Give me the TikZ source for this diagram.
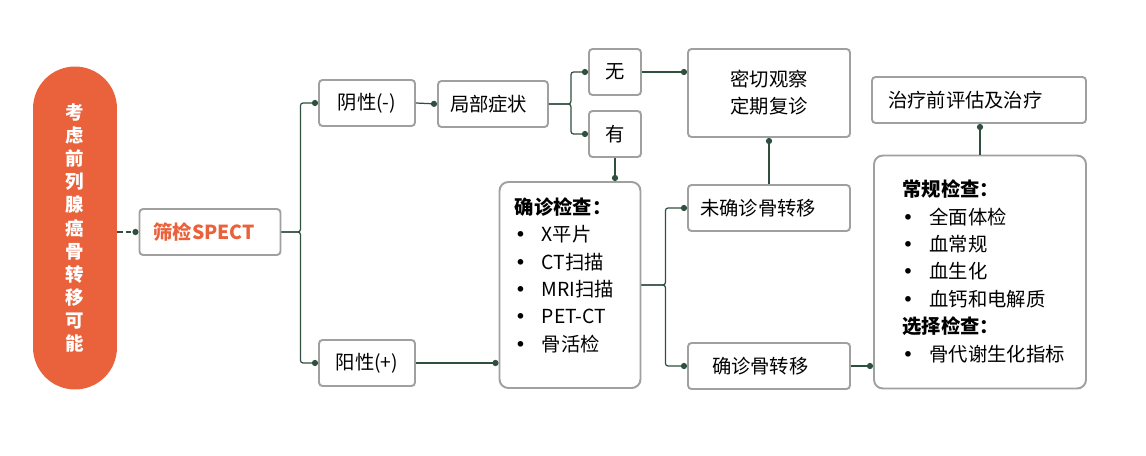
\documentclass[tikz,border=0pt]{standalone}
\usepackage{fontspec}
\setmainfont{Noto Sans CJK SC}
\newfontfamily\bulletfont{DejaVu Sans}
\usetikzlibrary{positioning,arrows.meta,calc}
\definecolor{pillorange}{RGB}{234,98,59}
\definecolor{boxgray}{RGB}{160,160,160}
\definecolor{linkgreen}{RGB}{47,79,63}
\newcommand{\itm}[1]{\makebox[0.54cm][l]{{\bulletfont •}}#1}

\begin{document}
\begin{tikzpicture}[x=0.02cm,y=-0.02cm,
    box/.style={draw=boxgray, line width=1.1pt, rounded corners=2pt, inner sep=0pt,
      minimum height=0.92cm, font=\fontsize{11}{15.4}\selectfont},
    lbox/.style={box, align=left, inner xsep=#1},
    bigbox/.style={box, rounded corners=5pt},
    listtext/.style={anchor=north west, align=left, inner sep=0pt, font=\fontsize{11}{15.6}\selectfont},
    link/.style={draw=linkgreen, line width=0.7pt, rounded corners=1.5pt},
    dotend/.style={link, -{Circle[length=3.5pt]}},
    dotstart/.style={link, {Circle[length=3.5pt]}-}]
  \useasboundingbox (0,0) rectangle (1146,456);
  \node[fill=pillorange, rounded corners=0.84cm, minimum width=1.68cm, minimum height=6.46cm,
    text=white, align=center, font=\bfseries\fontsize{10.5}{13.2}\selectfont] (pill) at (75,228)
    {考\\虑\\前\\列\\腺\\癌\\骨\\转\\移\\可\\能};
  \node[lbox=0.28cm, text width=2.26cm, minimum width=2.82cm, text=pillorange,
    font=\bfseries\fontsize{11}{15.4}\selectfont] (spect) at (210,232) {筛检SPECT};
  \node[box, minimum width=1.92cm] (yin) at (367,103) {阴性(-)};
  \node[box, minimum width=1.92cm] (yang) at (367,363) {阳性(+)};
  \node[lbox=0.24cm, text width=1.72cm] (jubu) at (493,104) {局部症状};
  \node[box, minimum width=1.04cm] (wu) at (615,72) {无};
  \node[box, minimum width=1.04cm] (you) at (615,134) {有};
  \node[bigbox, minimum width=2.82cm, minimum height=4.12cm] (chk) at (570,285) {};
  \node[listtext] (chktext) at ($(chk.north west)+(16,16)$)
    {\textbf{确诊检查：}\\\itm{X平片}\\\itm{CT扫描}\\\itm{MRI扫描}\\\itm{PET-CT}\\\itm{骨活检}};
  \node[box, minimum width=3.24cm, minimum height=1.76cm, align=center] (guancha) at (769,93)
    {密切观察\\定期复诊};
  \node[lbox=0.24cm, text width=2.76cm] (weiqz) at (769,208) {未确诊骨转移};
  \node[lbox=0.48cm, text width=2.28cm] (qz) at (769,366) {确诊骨转移};
  \node[lbox=0.32cm, text width=3.64cm] (pinggu) at (979,100) {治疗前评估及治疗};
  \node[bigbox, minimum width=4.24cm, minimum height=4.66cm] (changgui) at (980,272) {};
  \node[listtext] (changguitext) at ($(changgui.north west)+(29,25)$)
    {\textbf{常规检查：}\\\itm{全面体检}\\\itm{血常规}\\\itm{血生化}\\\itm{血钙和电解质}\\
     \textbf{选择检查：}\\\itm{骨代谢生化指标}};

  \draw[dotend, dash pattern=on 3pt off 2pt] (pill.east |- spect.west) -- (spect.west);
  \draw[dotend] (spect.east) -- ++(19,0) |- (yin.west);
  \draw[dotend] (spect.east) -- ++(19,0) |- (yang.west);
  \draw[dotend] (yin.east) -- (jubu.west);
  \draw[dotend] (jubu.east) -- ++(22,0) |- (wu.west);
  \draw[dotend] (jubu.east) -- ++(22,0) |- (you.west);
  \draw[dotend] (wu.east) -- (wu.east -| guancha.west);
  \draw[dotend] (you.south) -- (you.south |- chk.north);
  \draw[dotend] (yang.east) -- (yang.east -| chk.west);
  \draw[dotend] (chk.east) -- ++(24,0) |- (weiqz.west);
  \draw[dotend] (chk.east) -- ++(24,0) |- (qz.west);
  \draw[dotstart] (guancha.south) -- (weiqz.north);
  \draw[dotend] (qz.east) -- (qz.east -| changgui.west);
  \draw[dotend] (changgui.north) -- (changgui.north |- pinggu.south);
\end{tikzpicture}
\end{document}
